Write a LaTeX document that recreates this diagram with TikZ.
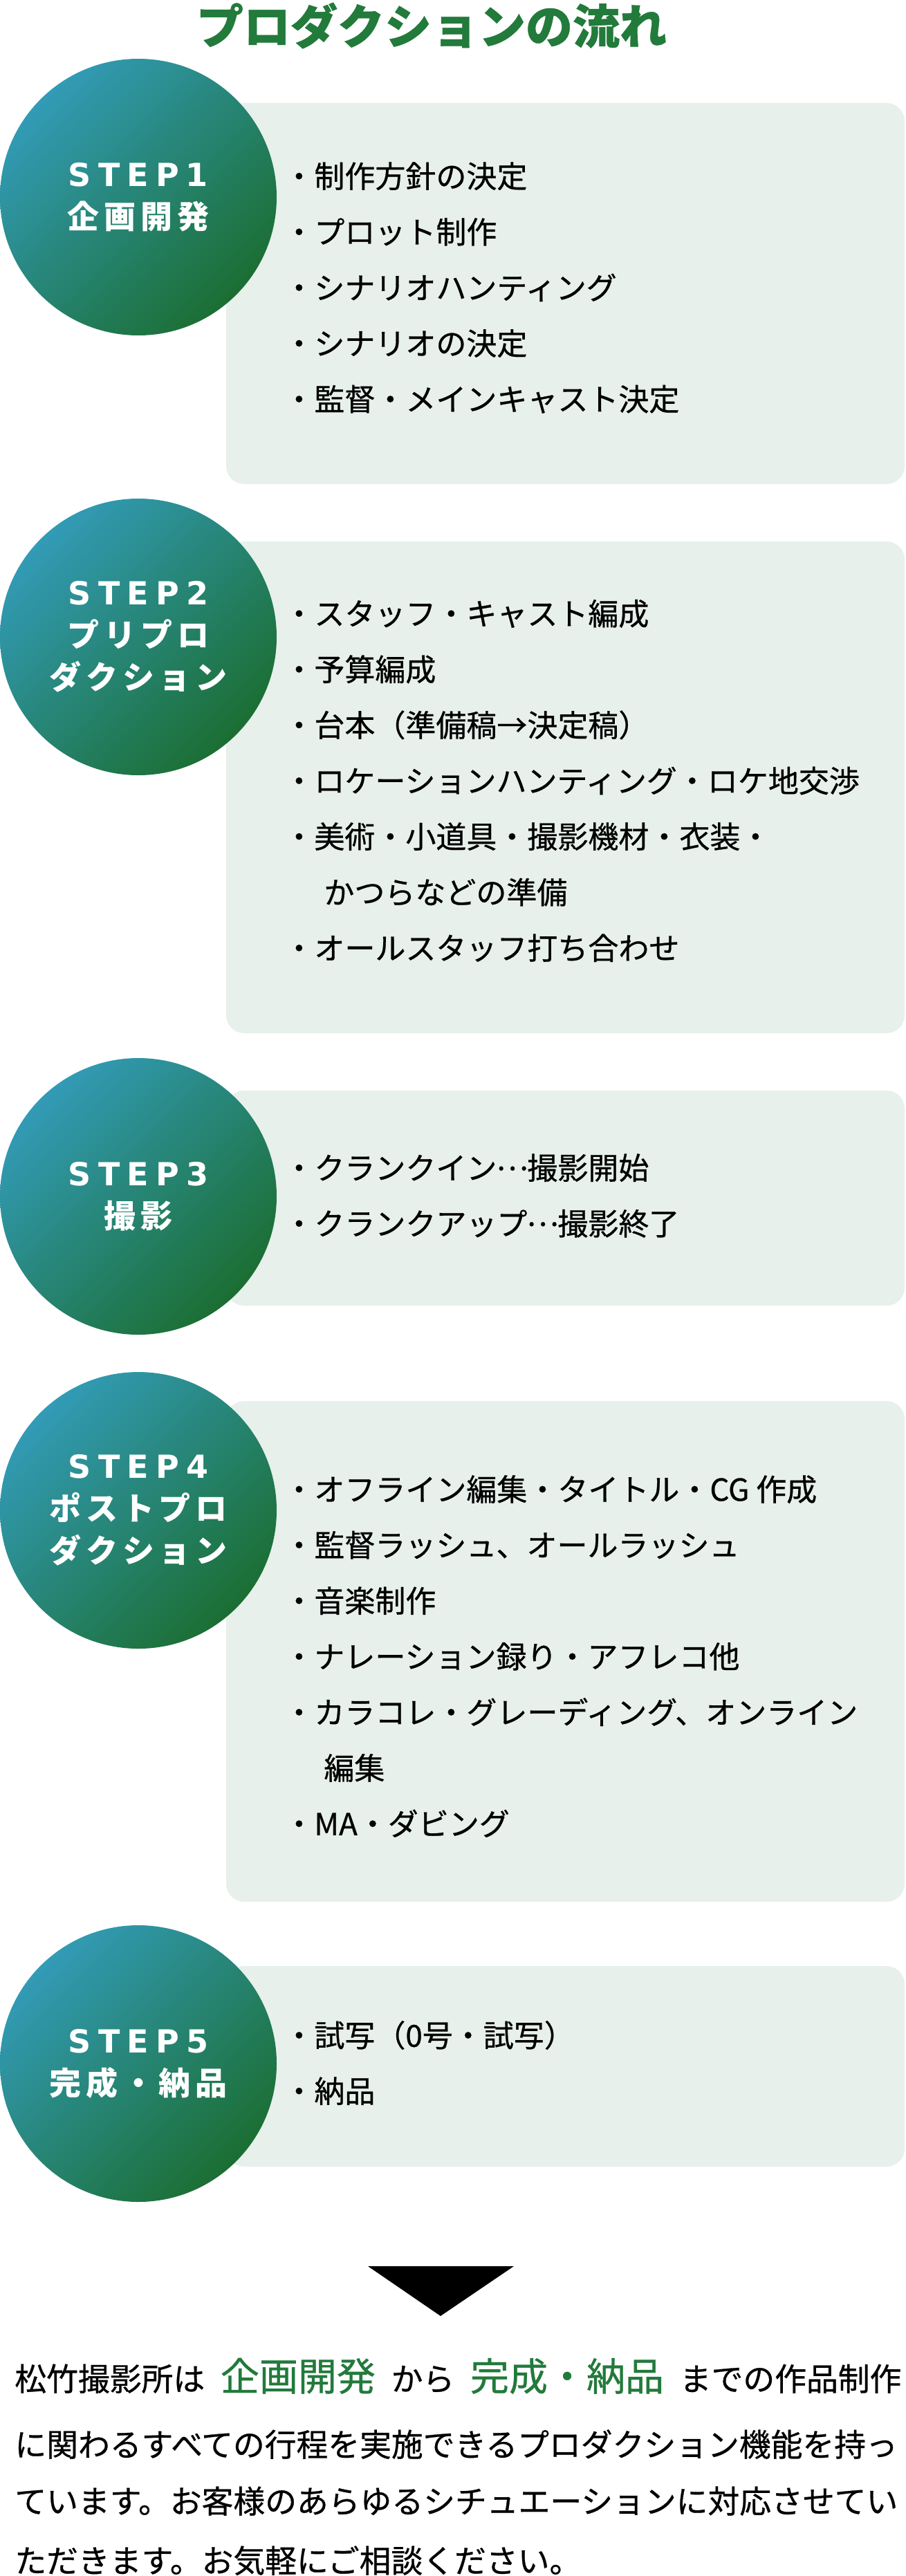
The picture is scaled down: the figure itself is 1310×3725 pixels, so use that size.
\documentclass[tikz,border=0pt]{standalone}
\usepackage{fontspec}
\setmainfont{Noto Sans CJK JP}[FakeBold=0.6]
\newfontfamily\steplatin{DejaVu Sans}[LetterSpace=22]
\newfontfamily\stepkana{Noto Sans CJK JP}[LetterSpace=15]
\newcommand\midots{\makebox[1em]{\raisebox{0.3em}{…}}}
\definecolor{titlegreen}{RGB}{34,122,59}
\definecolor{ballteal}{RGB}{50,155,182}
\definecolor{ballgreen}{RGB}{27,110,50}
\definecolor{boxgray}{RGB}{231,240,235}
\begin{document}
\begin{tikzpicture}[x=0.5pt, y=-0.5pt,
    stepbox/.style={fill=boxgray, rounded corners=13pt, minimum width=490.5pt, inner sep=0pt},
    stepball/.style={circle, minimum size=200pt, inner sep=0pt, top color=ballteal,
      bottom color=ballgreen, shading angle=45, text=white, align=center,
      font=\fontsize{23}{30.5}\selectfont\bfseries},
    items/.style={anchor=west, inner sep=0pt, align=left, font=\fontsize{22}{40.3}\selectfont},
    prose/.style={anchor=base west, inner sep=0pt, font=\fontsize{22.9}{22.9}\selectfont}]
  \useasboundingbox (0,0) rectangle (1310,3725);
  \node[font=\fontsize{34}{34}\selectfont\bfseries, text=titlegreen] (title) at (624,37) {プロダクションの流れ};
  % boxes behind the balls
  \node[stepbox, minimum height=275.5pt] (box1) at (817.5,424.5) {};
  \node[stepbox, minimum height=355.5pt] (box2) at (817.5,1138.5) {};
  \node[stepbox, minimum height=155.5pt] (box3) at (817.5,1732.5) {};
  \node[stepbox, minimum height=362pt] (box4) at (817.5,2388) {};
  \node[stepbox, minimum height=145pt] (box5) at (817.5,2988) {};
  % steps
  \node[stepball] (ball1) at (200,285) {{\steplatin STEP1}\\{\stepkana 企画開発}};
  \node[stepball] (ball2) at (200,921) {{\steplatin STEP2}\\{\stepkana プリプロ}\\{\stepkana ダクション}};
  \node[stepball] (ball3) at (200,1730) {{\steplatin STEP3}\\{\stepkana 撮影}};
  \node[stepball] (ball4) at (200,2184) {{\steplatin STEP4}\\{\stepkana ポストプロ}\\{\stepkana ダクション}};
  \node[stepball] (ball5) at (200,2984) {{\steplatin STEP5}\\{\stepkana 完成・納品}};
  % items
  \node[items] (list1) at (410,416) {・制作方針の決定\\・プロット制作\\・シナリオハンティング\\・シナリオの決定\\・監督・メインキャスト決定};
  \node[items] (list2) at (410,1129) {・スタッフ・キャスト編成\\・予算編成\\・台本（準備稿→決定稿）\\・ロケーションハンティング・ロケ地交渉\\・美術・小道具・撮影機材・衣装・\\\hspace*{29pt}かつらなどの準備\\・オールスタッフ打ち合わせ};
  \node[items] (list3) at (410,1729) {・クランクイン\midots 撮影開始\\・クランクアップ\midots 撮影終了};
  \node[items] (list4) at (410,2395) {・オフライン編集・タイトル・CG 作成\\・監督ラッシュ、オールラッシュ\\・音楽制作\\・ナレーション録り・アフレコ他\\・カラコレ・グレーディング、オンライン\\\hspace*{29pt}編集\\・MA・ダビング};
  \node[items] (list5) at (410,2983) {・試写（0号・試写）\\・納品};
  % arrow and text
  \fill (532,3277) -- (743,3277) -- (637,3349) -- cycle;
  \node[prose] (line1) at (21,3457) {\makebox[641pt][s]{松竹撮影所は {\fontsize{28}{28}\selectfont\color{titlegreen}企画開発} から {\fontsize{28}{28}\selectfont\color{titlegreen}完成・納品} までの作品制作}};
  \node[prose] (line2) at (21,3552) {に関わるすべての行程を実施できるプロダクション機能を持っ};
  \node[prose] (line3) at (21,3634) {ています。お客様のあらゆるシチュエーションに対応させてい};
  \node[prose] (line4) at (21,3720) {ただきます。お気軽にご相談ください。};
\end{tikzpicture}
\end{document}
